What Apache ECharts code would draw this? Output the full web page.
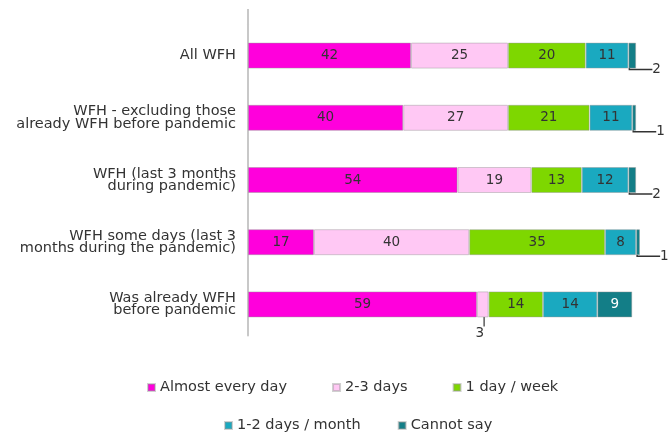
<!DOCTYPE html>
<html>
<head>
<meta charset="utf-8">
<script src="https://cdn.jsdelivr.net/npm/echarts@6/dist/echarts.min.js"></script>
<style>
  html, body { margin: 0; padding: 0; background: #fff; }
  #main { width: 672px; height: 434px; }
</style>
</head>
<body>
<div id="main"></div>
<script>
var categories = [
    'All WFH',
    'WFH - excluding those\nalready WFH before pandemic',
    'WFH (last 3 months\nduring pandemic)',
    'WFH some days (last 3\nmonths during the pandemic)',
    'Was already WFH\nbefore pandemic'
];
var seriesNames = ['Almost every day', '2-3 days', '1 day / week', '1-2 days / month', 'Cannot say'];
var almostEveryDay = [42, 40, 54, 17, 59];
var twoThreeDays = [25, 27, 19, 40, 3];
var oneDayWeek = [20, 21, 13, 35, 14];
var oneTwoMonth = [11, 11, 12, 8, 14];
var cannotSay = [2, 1, 2, 1, 9];
var colors = ['#ff00dc', '#ffc8f4', '#7ed700', '#1aa9c0', '#137e87'];

var font = 'DejaVu Sans';
var myChart = echarts.init(document.getElementById('main'));

function bar(name, values, color, extra) {
    var s = {
        name: name,
        type: 'bar',
        stack: 'all',
        barWidth: 26,
        data: values,
        itemStyle: { color: color, borderColor: 'rgba(150,150,150,0.45)', borderWidth: 1 },
        label: { show: true, position: 'inside', color: '#333', fontSize: 13.5, fontFamily: font }
    };
    return Object.assign(s, extra || {});
}

// small value under the bar in last row
var twoThreeData = twoThreeDays.map(function (v, i) {
    if (i === 4) {
        return { value: v, label: { position: 'bottom', distance: 9, offset: [-3, 0] },
                 labelLine: { show: true, length2: 4, lineStyle: { color: '#333', width: 1.2 } } };
    }
    return v;
});
// cannot say: outside labels with L leader, except last row
var cannotData = cannotSay.map(function (v, i) {
    if (i === 4) {
        return { value: v, label: { color: '#fff' }, labelLine: { show: false } };
    }
    return v;
});

var legendText = { color: '#333', fontSize: 14.5, fontFamily: font };

var option = {
    animation: false,
    color: colors,
    grid: { left: 248, right: 32, top: 24.5, bottom: 98.5 },
    xAxis: { type: 'value', min: 0, max: 101, show: false },
    yAxis: {
        type: 'category',
        inverse: true,
        data: categories,
        axisLine: { lineStyle: { color: '#c8c8c8', width: 2 } },
        axisTick: { show: false },
        axisLabel: { color: '#333', fontSize: 14.5, fontFamily: font, lineHeight: 12.5, margin: 12 }
    },
    legend: [{
        data: seriesNames.slice(0, 3),
        top: 375, left: 142,
        icon: 'rect', itemWidth: 7, itemHeight: 7, itemGap: 45,
        textStyle: legendText
    }, {
        data: seriesNames.slice(3),
        top: 413, left: 219,
        icon: 'rect', itemWidth: 7, itemHeight: 7, itemGap: 37,
        textStyle: legendText
    }],
    graphic: [{
        type: 'line',
        shape: { x1: 248, y1: 9, x2: 248, y2: 25 },
        style: { stroke: '#c8c8c8', lineWidth: 2 }
    }],
    series: [
        bar(seriesNames[0], almostEveryDay, colors[0]),
        bar(seriesNames[1], twoThreeData, colors[1]),
        bar(seriesNames[2], oneDayWeek, colors[2]),
        bar(seriesNames[3], oneTwoMonth, colors[3]),
        bar(seriesNames[4], cannotData, colors[4], {
            labelLine: { show: true, length2: 23, lineStyle: { color: '#333', width: 1.5 } },
            labelLayout: function (p) {
                if (p.dataIndex === 4) return {};
                return {
                    x: p.rect.x + 24,
                    y: p.rect.y + p.rect.height + 1,
                    align: 'left',
                    verticalAlign: 'middle'
                };
            }
        })
    ]
};
myChart.setOption(option);
</script>
</body>
</html>
